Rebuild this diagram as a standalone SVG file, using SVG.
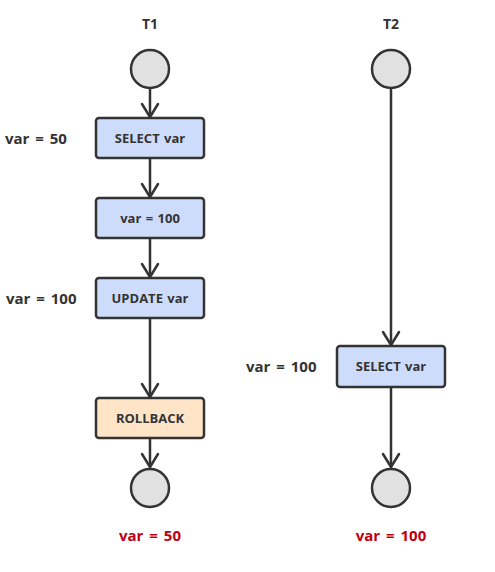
<svg xmlns="http://www.w3.org/2000/svg" width="495" height="572" viewBox="0 0 495 572">
<style>
.t{font-family:"Open Sans","Liberation Sans",sans-serif;font-weight:bold;fill:#333;}
.lbl{font-size:15px;word-spacing:2px;}
.box{font-size:13px;text-anchor:middle;word-spacing:1px;}
.red{font-size:15px;fill:#c00010;text-anchor:middle;word-spacing:2px;}
.hd{font-size:14px;text-anchor:middle;}
.node{stroke:#333;stroke-width:2.5;}
.b{fill:#cedcfc;}
.o{fill:#ffe4c8;}
.c{fill:#e1e1e1;stroke:#333;stroke-width:2.5;}
.ln{stroke:#333;stroke-width:2.5;fill:none;}
.ah{stroke:#333;stroke-width:2.5;fill:none;stroke-linecap:round;stroke-linejoin:round;}
</style>
<rect width="495" height="572" fill="#fff"/>
<g id="connectors">
<line class="ln" x1="150" y1="88" x2="150" y2="117"/><polyline class="ah" points="142,104 150,117 158,104"/>
<line class="ln" x1="150" y1="158" x2="150" y2="197"/><polyline class="ah" points="142,184 150,197 158,184"/>
<line class="ln" x1="150" y1="238" x2="150" y2="277"/><polyline class="ah" points="142,264 150,277 158,264"/>
<line class="ln" x1="150" y1="318" x2="150" y2="397"/><polyline class="ah" points="142,384 150,397 158,384"/>
<line class="ln" x1="150" y1="438" x2="150" y2="467"/><polyline class="ah" points="142,454 150,467 158,454"/>
<line class="ln" x1="391" y1="88" x2="391" y2="345"/><polyline class="ah" points="383,332 391,345 399,332"/>
<line class="ln" x1="391" y1="387" x2="391" y2="467"/><polyline class="ah" points="383,454 391,467 399,454"/>
</g>
<g id="t1-title"><text class="t hd" x="150" y="29">T1</text></g>
<g id="t2-title"><text class="t hd" x="391" y="29">T2</text></g>
<g id="t1-start"><circle class="c" cx="150" cy="69" r="19"/></g>
<g id="t1-select"><rect class="node b" x="96" y="118" width="108" height="40" rx="3"/><text class="t box" x="150" y="143">SELECT var</text></g>
<g id="t1-set"><rect class="node b" x="96" y="198" width="108" height="40" rx="3"/><text class="t box" x="150" y="223">var = 100</text></g>
<g id="t1-update"><rect class="node b" x="96" y="278" width="108" height="40" rx="3"/><text class="t box" x="150" y="303">UPDATE var</text></g>
<g id="t1-rollback"><rect class="node o" x="96" y="398" width="108" height="40" rx="3"/><text class="t box" x="150" y="423">ROLLBACK</text></g>
<g id="t1-end"><circle class="c" cx="150" cy="488" r="19"/></g>
<g id="t2-start"><circle class="c" cx="391" cy="69" r="19"/></g>
<g id="t2-select"><rect class="node b" x="337" y="346" width="108" height="41" rx="3"/><text class="t box" x="391" y="371">SELECT var</text></g>
<g id="t2-end"><circle class="c" cx="391" cy="488" r="19"/></g>
<g id="labels">
<text class="t lbl" x="5" y="144">var = 50</text>
<text class="t lbl" x="6" y="304">var = 100</text>
<text class="t lbl" x="246" y="372">var = 100</text>
<text class="t red" x="150" y="541">var = 50</text>
<text class="t red" x="391" y="541">var = 100</text>
</g>
</svg>
